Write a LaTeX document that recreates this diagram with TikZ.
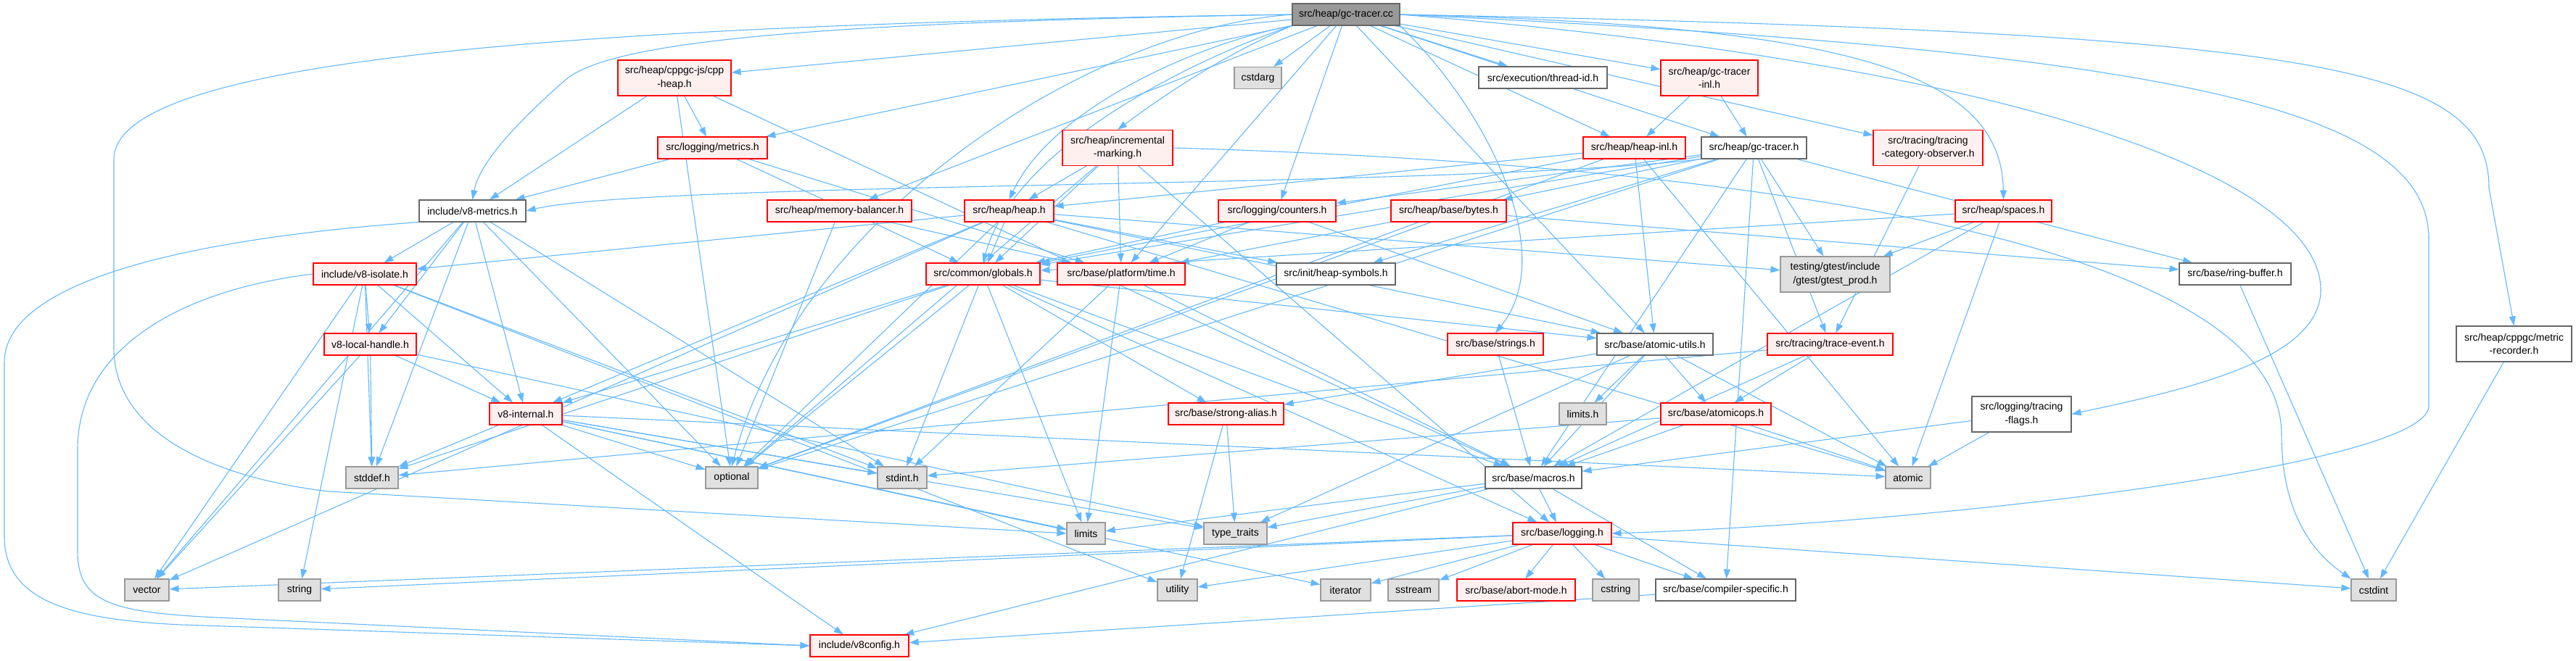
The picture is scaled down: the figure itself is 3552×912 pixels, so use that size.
\documentclass[tikz,border=0pt]{standalone}
\usepackage{fontspec}
\setmainfont{Liberation Sans}
\usetikzlibrary{arrows.meta,backgrounds}
\definecolor{edgeblue}{RGB}{99,184,255}
\definecolor{truncred}{RGB}{255,0,0}
\definecolor{truncfill}{RGB}{255,240,240}
\definecolor{sysfill}{RGB}{224,224,224}
\definecolor{sysborder}{RGB}{153,153,153}
\definecolor{docborder}{RGB}{102,102,102}
\definecolor{rootfill}{RGB}{153,153,153}

\begin{document}
\begin{tikzpicture}[
    x=1pt, y=-1pt,
    hdr/.style={draw, line width=1.1pt, font=\fontsize{14}{18.5}\selectfont, align=center, minimum height=30pt, inner xsep=1pt, inner ysep=2pt},
    rootfile/.style={hdr, draw=docborder, fill=rootfill},
    redhdr/.style={hdr, draw=truncred, fill=truncfill},
    dochdr/.style={hdr, draw=docborder, fill=white},
    syshdr/.style={hdr, draw=sysborder, fill=sysfill},
    twoline/.style={minimum height=49pt},
    edge/.style={-{Triangle[length=13pt,width=9pt]}, edgeblue, line width=1.1pt}
]
\useasboundingbox (0,0) rectangle (3552,912);

\node[rootfile, minimum width=148pt] (gctracercc) at (1856,20) {src/heap/gc-tracer.cc};

\node[redhdr, twoline, minimum width=156pt] (cppheap) at (930,107.5) {src/heap/cppgc-js/cpp\\-heap.h};
\node[syshdr, minimum width=65pt] (cstdarg) at (1734.5,107.5) {cstdarg};
\node[dochdr, minimum width=177pt] (threadid) at (2127.5,107) {src/execution/thread-id.h};
\node[redhdr, twoline, minimum width=134pt] (gctracerinl) at (2357,107.5) {src/heap/gc-tracer\\-inl.h};

\node[redhdr, minimum width=151pt] (metrics) at (982.5,204) {src/logging/metrics.h};
\node[redhdr, twoline, minimum width=152pt] (incmark) at (1541,204) {src/heap/incremental\\-marking.h};
\node[redhdr, minimum width=141pt] (heapinl) at (2253.5,204) {src/heap/heap-inl.h};
\node[dochdr, minimum width=145pt] (gctracerh) at (2418.5,204) {src/heap/gc-tracer.h};
\node[redhdr, twoline, minimum width=151pt] (tracingobs) at (2658.5,204) {src/tracing/tracing\\-category-observer.h};

\node[dochdr, minimum width=147pt] (v8metrics) at (651.5,291) {include/v8-metrics.h};
\node[redhdr, minimum width=199pt] (membal) at (1157.5,291) {src/heap/memory-balancer.h};
\node[redhdr, minimum width=123pt] (heaph) at (1391.5,291) {src/heap/heap.h};
\node[redhdr, minimum width=162pt] (counters) at (1761,291) {src/logging/counters.h};
\node[redhdr, minimum width=159pt] (bytes) at (1997.5,291) {src/heap/base/bytes.h};
\node[redhdr, minimum width=133pt] (spaces) at (2762.5,291) {src/heap/spaces.h};

\node[syshdr, twoline, minimum width=151pt] (gtest) at (2530.5,378.5) {testing/gtest/include\\/gtest/gtest\_prod.h};
\node[redhdr, minimum width=142pt] (v8isolate) at (503,378) {include/v8-isolate.h};
\node[redhdr, minimum width=157pt] (globals) at (1355.5,378) {src/common/globals.h};
\node[redhdr, minimum width=176pt] (time) at (1546,378) {src/base/platform/time.h};
\node[dochdr, minimum width=164pt] (heapsym) at (1842,378) {src/init/heap-symbols.h};
\node[dochdr, minimum width=154pt] (ringbuf) at (3082,378) {src/base/ring-buffer.h};

\node[dochdr, twoline, minimum width=159pt] (metricrec) at (3466.5,474.5) {src/heap/cppgc/metric\\-recorder.h};
\node[redhdr, minimum width=127pt] (localhandle) at (510.5,475) {v8-local-handle.h};
\node[redhdr, minimum width=132pt] (strings) at (2062,475) {src/base/strings.h};
\node[dochdr, minimum width=160pt] (atomicutils) at (2282,475) {src/base/atomic-utils.h};
\node[redhdr, minimum width=173pt] (traceevent) at (2523.5,475) {src/tracing/trace-event.h};

\node[redhdr, minimum width=100pt] (v8internal) at (725,571) {v8-internal.h};
\node[redhdr, minimum width=159pt] (strongalias) at (1690.5,571) {src/base/strong-alias.h};
\node[syshdr, minimum width=65pt] (limitsh) at (2182.5,571) {limits.h};
\node[redhdr, minimum width=152pt] (atomicops) at (2366,571) {src/base/atomicops.h};
\node[dochdr, twoline, minimum width=137pt] (tracingflags) at (2787.5,571.5) {src/logging/tracing\\-flags.h};

\node[syshdr, minimum width=72pt] (stddef) at (513,659) {stddef.h};
\node[syshdr, minimum width=72pt] (optional) at (1009,659) {optional};
\node[syshdr, minimum width=68pt] (stdint) at (1244,659) {stdint.h};
\node[dochdr, minimum width=133pt] (macros) at (2114.5,659) {src/base/macros.h};
\node[syshdr, minimum width=62pt] (atomic) at (2631,659) {atomic};

\node[syshdr, minimum width=53pt] (limits) at (1497.5,736) {limits};
\node[syshdr, minimum width=87pt] (typetraits) at (1703.5,736) {type\_traits};
\node[redhdr, minimum width=136pt] (logging) at (2154,736) {src/base/logging.h};

\node[syshdr, minimum width=61pt] (vector) at (202.5,814) {vector};
\node[syshdr, minimum width=58pt] (string) at (413,814) {string};
\node[syshdr, minimum width=55pt] (utility) at (1623.5,814) {utility};
\node[syshdr, minimum width=69pt] (iterator) at (1855.5,814) {iterator};
\node[syshdr, minimum width=70pt] (sstream) at (1949,814) {sstream};
\node[redhdr, minimum width=163pt] (abortmode) at (2090.5,814) {src/base/abort-mode.h};
\node[syshdr, minimum width=64pt] (cstring) at (2228,814) {cstring};
\node[dochdr, minimum width=193pt] (compspec) at (2379.5,814) {src/base/compiler-specific.h};
\node[syshdr, minimum width=62pt] (cstdint) at (3273,814) {cstdint};

\node[redhdr, minimum width=136pt] (v8config) at (1185,891) {include/v8config.h};

\begin{scope}[on background layer]
% include edges
\foreach \s/\t in {gctracercc/cstdarg, gctracercc/atomicutils,
    gctracercc/time, gctracercc/threadid, gctracercc/cppheap,
    gctracercc/gctracerinl, gctracercc/gctracerh, gctracercc/heapinl,
    gctracercc/membal, gctracercc/counters, gctracercc/metrics, gctracercc/tracingobs,
    cppheap/v8metrics, cppheap/metrics, cppheap/optional, cppheap/macros,
    metrics/v8metrics, metrics/globals, metrics/time,
    incmark/heaph, incmark/globals, incmark/time, incmark/optional, incmark/logging,
    heapinl/heaph, heapinl/globals, heapinl/atomicutils, heapinl/optional, heapinl/atomic,
    gctracerh/globals, gctracerh/counters, gctracerh/bytes, gctracerh/heapsym,
    gctracerh/gtest, gctracerh/traceevent, gctracerh/ringbuf, gctracerh/compspec, gctracerh/macros,
    gctracerh/optional,
    gctracerinl/heapinl, gctracerinl/gctracerh,
    tracingobs/traceevent,
    v8metrics/stddef, v8metrics/stdint, v8metrics/vector, v8metrics/v8internal, v8metrics/v8isolate,
    v8metrics/localhandle, v8metrics/optional,
    membal/optional, membal/time,
    heaph/globals, heaph/v8internal, heaph/v8isolate, heaph/heapsym, heaph/gtest, heaph/atomicutils,
    heaph/optional, heaph/vector, heaph/atomic,
    counters/globals, counters/time, counters/atomicutils,
    bytes/ringbuf, bytes/time, bytes/optional,
    spaces/globals, spaces/gtest, spaces/atomic, spaces/macros,
    v8isolate/stddef, v8isolate/stdint, v8isolate/string, v8isolate/utility, v8isolate/vector,
    v8isolate/v8internal, v8isolate/localhandle,
    globals/stddef, globals/stdint, globals/limits, globals/v8internal, globals/atomicutils,
    globals/macros, globals/logging, globals/strongalias, globals/optional,
    time/limits, time/stdint, time/macros,
    ringbuf/cstdint, metricrec/cstdint,
    localhandle/stddef, localhandle/vector, localhandle/typetraits, localhandle/v8internal,
    strings/macros,
    atomicutils/limitsh, atomicutils/atomic, atomicutils/typetraits, atomicutils/atomicops,
    atomicutils/macros, atomicutils/strongalias,
    traceevent/atomicops, traceevent/macros, traceevent/stddef,
    v8internal/stddef, v8internal/stdint, v8internal/atomic, v8internal/iterator, v8internal/limits,
    v8internal/optional, v8internal/typetraits, v8internal/v8config,
    strongalias/typetraits, strongalias/utility,
    atomicops/atomic, atomicops/macros, atomicops/stdint,
    tracingflags/atomic, tracingflags/macros,
    macros/limits, macros/typetraits, macros/logging, macros/compspec, macros/v8config,
    logging/vector, logging/string, logging/utility, logging/iterator, logging/sstream,
    logging/abortmode, logging/cstring, logging/compspec, logging/cstdint,
    compspec/v8config}
  \draw[edge] (\s) -- (\t);

% root edges bent past the boxes in between
\draw[edge] (gctracercc.west) .. controls (1200,30) and (850,50) .. (780,110)
    .. controls (700,180) and (660,230) .. (v8metrics.north);
\draw[edge] (gctracercc.south west) .. controls (1700,70) and (1620,120) .. (incmark.north);
\draw[edge] (gctracercc.south west) .. controls (1650,60) and (1450,150) .. (heaph.north);
\draw[edge] (gctracercc.south west) .. controls (1650,80) and (1400,200) .. (globals.north);
\draw[edge] (gctracercc.west) .. controls (1500,40) and (1100,300) .. (optional.north);
\draw[edge] (gctracercc.south east) .. controls (2050,150) and (2150,350) .. (strings.north);
\draw[edge] (gctracercc.east) .. controls (2550,35) and (2760,100) .. (spaces.north);
\draw[edge] (gctracerh.south west) .. controls (2000,260) and (900,250) .. (v8metrics.east);

% long ones round the left side
\draw[edge] (gctracercc.west) .. controls (700,35) and (157,90) .. (157,220) -- (157,480)
    .. controls (157,600) and (300,660) .. (453,678) -- (limits.west);
\draw[edge] (v8metrics.south west) .. controls (250,330) and (6,390) .. (6,500) -- (6,740)
    .. controls (6,830) and (100,855) .. (250,862) -- (v8config.west);
\draw[edge] (v8isolate.west) .. controls (250,400) and (107,480) .. (107,620) -- (107,760)
    .. controls (107,830) and (150,845) .. (300,852) -- (v8config.west);

% long ones round the right side
\draw[edge] (gctracercc.east) .. controls (3200,45) and (3432,90) .. (3432,260) -- (metricrec.north);
\draw[edge] (gctracercc.east) .. controls (3000,70) and (3349,150) .. (3349,330) -- (3349,560)
    .. controls (3349,640) and (2700,720) .. (logging.east);
\draw[edge] (gctracercc.east) .. controls (2800,90) and (3200,250) .. (3200,400)
    .. controls (3200,500) and (3000,540) .. (tracingflags.east);
\draw[edge] (incmark.east) .. controls (2500,230) and (3146,350) .. (3146,600)
    .. controls (3146,720) and (3200,770) .. (cstdint.north west);
\end{scope}
\end{tikzpicture}
\end{document}
